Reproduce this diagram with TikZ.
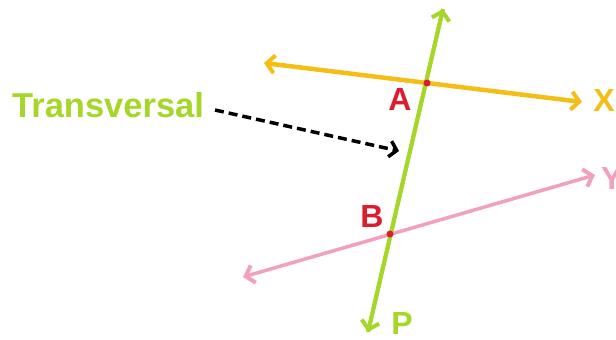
\documentclass[tikz,border=0pt]{standalone}
\usepackage{fontspec}
\setmainfont{Liberation Sans}
\usetikzlibrary{arrows.meta}
\definecolor{lgreen}{RGB}{166,214,40}
\definecolor{lorange}{RGB}{244,190,22}
\definecolor{lpink}{RGB}{242,160,190}
\definecolor{lred}{RGB}{222,28,48}
\begin{document}
\begin{tikzpicture}[x=1pt,y=-1pt,
  tip/.style={-{Straight Barb[length=8pt,width=18pt,line width=4pt]}},
  both/.style={{Straight Barb[length=8pt,width=18pt,line width=4pt]}-{Straight Barb[length=8pt,width=18pt,line width=4pt]}},
  lbl/.style={font=\bfseries\fontsize{32}{32}\selectfont, inner sep=0pt},
  dot/.style={circle,fill=lred,inner sep=0pt,minimum size=7pt}]
\useasboundingbox (0,0) rectangle (616,340);
% coordinates
\coordinate (gt) at (443,9);
\coordinate (gb) at (368,332);
\coordinate (ol) at (264,63);
\coordinate (or) at (582,102);
\coordinate (pl) at (243,277);
\coordinate (pr) at (595,175);
% lines
\draw[lorange,line width=4.5pt,both] (ol) -- (or);
\draw[lpink,line width=3.5pt,both] (pl) -- (pr);
\draw[lgreen,line width=4pt,tip] (gb) -- (gt);
\draw[lgreen,line width=4pt,tip] (gt) -- (gb);
% points
\node[dot] (A) at (427,83) {};
\node[dot] (B) at (390,234) {};
% labels
\node[lbl,text=lred] (la) at (400,99) {A};
\node[lbl,text=lred] (lb) at (372,216) {B};
\node[lbl,text=lgreen] (lp) at (402,323) {P};
\node[lbl,text=lorange] (lx) at (604,100) {X};
\node[lbl,text=lpink,anchor=west] (ly) at (601,178) {Y};
\node[lbl,text=lgreen,font=\bfseries\fontsize{34.5}{34.5}\selectfont,anchor=west] (tr) at (12,105) {Transversal};
\coordinate (as) at (215,110);
\coordinate (ae) at (399,151);
\draw[black,line width=3.5pt,dash pattern=on 9pt off 5pt,-{Straight Barb[length=7pt,width=16pt,line width=3.5pt]}] (as) -- (ae);
\end{tikzpicture}
\end{document}
